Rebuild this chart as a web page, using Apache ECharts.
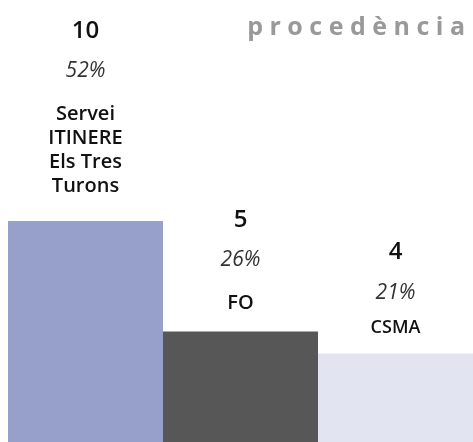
<!DOCTYPE html>
<html>
<head>
<meta charset="utf-8">
<script src="https://cdn.jsdelivr.net/npm/echarts@6/dist/echarts.min.js"></script>
<style>
  html, body { margin: 0; padding: 0; background: #fff; }
  #chart { width: 473px; height: 442px; }
</style>
</head>
<body>
<div id="chart"></div>
<script>
// values
const categories = ["Servei\nITINERE\nEls Tres\nTurons", "FO", "CSMA"];
const counts = [10, 5, 4];
const percents = [52, 26, 21];

const barColors = ["#97a0ca", "#575757", "#e2e5f1"];
const nameStyles = ["n", "n", "s"];
const labelGaps = [23, 16, 12];

var chart = echarts.init(document.getElementById("chart"));

const option = {
  animation: false,
  title: {
    text: "p r o c e d è n c i a",
    right: 3,
    top: 10,
    textStyle: {
      fontFamily: "Open Sans",
      fontSize: 25,
      fontWeight: "bold",
      color: "#999999",
    },
  },
  grid: { left: 8, right: 0, top: -4, bottom: 0 },
  xAxis: {
    type: "category",
    data: categories,
    show: false,
  },
  yAxis: {
    type: "value",
    min: 0,
    max: 20,
    show: false,
  },
  series: [
    {
      type: "bar",
      barCategoryGap: 0,
      data: counts.map((v, i) => ({
        value: v,
        itemStyle: { color: barColors[i] },
        label: { distance: labelGaps[i] },
      })),
      label: {
        show: true,
        position: "top",
        align: "center",
        formatter: (p) => {
          const i = p.dataIndex;
          const st = nameStyles[i];
          const gap = st === "s" ? "" : "{g| }\n";
          return (
            "{v|" + counts[i] + "}\n{p|" + percents[i] + "%}\n" + gap +
            "{" + st + "|" + categories[i] + "}"
          );
        },
        rich: {
          v: { fontFamily: "Open Sans", fontSize: 24, fontWeight: 600, color: "#111", lineHeight: 38, align: "center" },
          p: { fontFamily: "Open Sans", fontSize: 21, fontStyle: "italic", color: "#333", lineHeight: 42, align: "center" },
          g: { fontSize: 6, lineHeight: 10 },
          n: { fontFamily: "Open Sans", fontSize: 20, fontWeight: 600, color: "#111", lineHeight: 24, align: "center" },
          s: { fontFamily: "Open Sans", fontSize: 18, fontWeight: 600, color: "#111", lineHeight: 28, align: "center" },
        },
      },
    },
  ],
};

chart.setOption(option);
</script>
</body>
</html>
